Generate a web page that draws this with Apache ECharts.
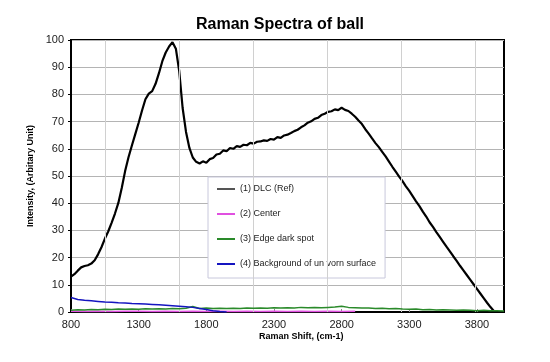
<!DOCTYPE html>
<html><head><meta charset="utf-8">
<script src="https://cdn.jsdelivr.net/npm/echarts@6/dist/echarts.min.js"></script>
<style>html,body{margin:0;padding:0;background:#fff}#c{width:550px;height:362px}</style>
</head><body><div id="c"></div>
<script>
// ---- data ----
const seriesNames = ['(1) DLC (Ref)', '(2) Center', '(3) Edge dark spot', '(4) Background of un vorn surface'];

const dlcShift = [800,825,850,875,900,925,950,975,1000,1025,1050,1075,1100,1125,1150,1175,1200,1225,1250,1275,1300,1325,1350,1375,1400,1425,1450,1475,1500,1525,1550,1575,1600,1625,1650,1675,1700,1725,1750,1775,1800,1825,1850,1875,1900,1925,1950,1975,2000,2025,2050,2075,2100,2125,2150,2175,2200,2225,2250,2275,2300,2325,2350,2375,2400,2425,2450,2475,2500,2525,2550,2575,2600,2625,2650,2675,2700,2725,2750,2775,2800,2825,2850,2875,2900,2925,2950,2975,3000,3025,3050,3075,3100,3125,3150,3175,3200,3225,3250,3275,3300,3325,3350,3375,3400,3425,3450,3475,3500,3525,3550,3575,3600,3625,3650,3675,3700,3725,3750,3775,3800,3825,3850,3875,3900,3925,3950,3975,4000];
const dlcIntensity = [13.0,13.9,15.2,16.4,16.9,17.2,17.8,19.0,21.2,23.8,26.9,29.6,32.8,36.2,40.1,45.6,51.8,56.9,61.2,65.4,69.6,74.1,78.2,80.3,81.2,83.9,87.8,92.2,95.4,97.6,99.2,96.8,88.5,75.0,66.2,60.3,56.8,55.2,54.6,55.4,54.9,56.2,56.6,57.9,58.2,59.4,59.1,60.3,60.0,61.0,60.7,61.5,61.3,62.2,61.9,62.6,62.7,63.1,62.9,63.6,63.4,64.3,64.0,64.9,65.2,65.8,66.5,67.0,67.9,68.6,69.6,70.1,71.0,71.4,72.4,72.9,73.6,73.8,74.5,74.2,75.1,74.3,73.9,72.9,71.8,70.4,69.1,67.2,65.6,63.8,62.1,60.6,58.9,57.2,55.3,53.4,51.6,49.8,48.1,46.2,44.5,42.6,40.7,38.9,36.9,35.1,33.0,31.3,29.4,27.6,25.8,24.0,22.3,20.5,18.8,17.0,15.3,13.6,11.9,10.2,8.5,6.8,5.1,3.4,1.8,0.4,0.0,0.0,0.0];

const centerShift = [800,900,1000,1100,1200,1300,1400,1500,1600,1700,1800,1900,2000,2100,2200,2300,2400,2500,2600,2700,2800,2900];
const centerIntensity = [0.3,0.2,0.3,0.2,0.3,0.3,0.2,0.3,0.2,0.3,0.2,0.3,0.2,0.3,0.2,0.3,0.2,0.3,0.2,0.3,0.2,0.3];

const edgeShift = [800,850,900,950,1000,1050,1100,1150,1200,1250,1300,1350,1400,1450,1500,1550,1600,1650,1700,1750,1800,1850,1900,1950,2000,2050,2100,2150,2200,2250,2300,2350,2400,2450,2500,2550,2600,2650,2700,2750,2800,2850,2900,2950,3000,3050,3100,3150,3200,3250,3300,3350,3400,3450,3500,3550,3600,3650,3700,3750,3800,3850,3900,3950,4000];
const edgeIntensity = [0.6,0.8,0.7,0.9,0.8,1.0,0.9,1.1,1.0,1.1,1.0,1.2,1.1,1.2,1.1,1.3,1.2,1.4,2.0,1.3,1.5,1.3,1.4,1.3,1.4,1.3,1.5,1.4,1.5,1.4,1.6,1.5,1.6,1.5,1.7,1.6,1.7,1.6,1.7,1.8,2.1,1.7,1.6,1.5,1.5,1.3,1.4,1.2,1.3,1.1,1.0,1.1,0.8,0.9,0.7,0.8,0.7,0.6,0.7,0.6,0.5,0.6,0.5,0.5,0.4];

const bgShift = [800,850,900,950,1000,1050,1100,1150,1200,1250,1300,1350,1400,1450,1500,1550,1600,1650,1700,1750,1800,1850,1900,1950];
const bgIntensity = [5.3,4.6,4.3,4.1,3.9,3.7,3.6,3.4,3.3,3.1,3.0,2.9,2.8,2.7,2.5,2.3,2.1,1.9,1.7,1.3,0.9,0.5,0.2,0.0];

const xTicks = {min: 800, max: 4000, interval: 500};
const yTicks = {min: 0, max: 100, interval: 10};

// ---- build ----
const zip = (a, b) => a.map((v, i) => [v, b[i]]);
const colors = ['#000000', '#e050e0', '#2a8a2a', '#1515c0'];
const legendColors = ['#555555', '#e050e0', '#2a8a2a', '#1515c0'];
const FONT = 'Arial, "Liberation Sans", sans-serif';

const chart = echarts.init(document.getElementById('c'), null, {renderer: 'canvas'});
chart.setOption({
  animation: false,
  backgroundColor: '#ffffff',
  title: {
    text: 'Raman Spectra of ball', left: 275, top: 12, textAlign: 'center',
    textStyle: {fontFamily: FONT, fontSize: 16, fontWeight: 'bold', color: '#000'}
  },
  grid: {left: 71, right: 46, top: 40, bottom: 50, show: true, borderColor: '#000', borderWidth: 2, backgroundColor: '#fff'},
  legend: {
    orient: 'vertical', left: 208, top: 177,
    itemWidth: 18, itemHeight: 2, itemGap: 13, icon: 'rect',
    padding: [6, 9, 8, 9],
    backgroundColor: '#fff', borderColor: '#c8c8dc', borderWidth: 1,
    textStyle: {fontFamily: FONT, fontSize: 9, color: '#222', lineHeight: 12},
    data: seriesNames.map((n, i) => ({name: n, itemStyle: {color: legendColors[i]}}))
  },
  xAxis: {
    type: 'value', min: xTicks.min, max: xTicks.max, interval: xTicks.interval,
    axisLine: {show: true, onZero: false, lineStyle: {color: '#000', width: 2}},
    axisTick: {show: true, inside: true, length: 3, lineStyle: {color: '#888'}},
    axisLabel: {fontFamily: FONT, fontSize: 11, color: '#222', margin: 7, showMaxLabel: false,
      formatter: v => String(v)},
    splitLine: {show: false}
  },
  yAxis: {
    type: 'value', min: yTicks.min, max: yTicks.max, interval: yTicks.interval,
    name: 'Intensity, (Arbitary Unit)', nameLocation: 'middle', nameGap: 35,
    nameTextStyle: {fontFamily: FONT, fontSize: 9, fontWeight: 'bold', color: '#000'},
    axisLine: {show: true, lineStyle: {color: '#000', width: 2}},
    axisTick: {show: true, length: 3, lineStyle: {color: '#000'}},
    axisLabel: {fontFamily: FONT, fontSize: 11, color: '#222', margin: 7},
    splitLine: {show: true, lineStyle: {color: '#b4b4b4', width: 1}}
  },
  graphic: [{
    type: 'text', left: 259, top: 332,
    style: {text: 'Raman Shift, (cm-1)', font: 'bold 9px ' + FONT, fill: '#000'}
  }],
  series: [
    {
      type: 'line', name: '__grid', data: [], z: 1, silent: true,
      markLine: {
        silent: true, symbol: 'none', label: {show: false},
        lineStyle: {color: '#d0d0d0', width: 1, type: 'solid'},
        data: [{xAxis: 1051}, {xAxis: 1598}, {xAxis: 2145}, {xAxis: 2692}, {xAxis: 3239}, {xAxis: 3786}]
      }
    },
    {type: 'line', name: seriesNames[0], data: zip(dlcShift, dlcIntensity), showSymbol: false, symbol: 'none', z: 3,
      lineStyle: {color: colors[0], width: 2.2}, itemStyle: {color: legendColors[0]}},
    {type: 'line', name: seriesNames[1], data: zip(centerShift, centerIntensity), showSymbol: false, symbol: 'none', z: 4,
      lineStyle: {color: colors[1], width: 1.5}, itemStyle: {color: colors[1]}},
    {type: 'line', name: seriesNames[2], data: zip(edgeShift, edgeIntensity), showSymbol: false, symbol: 'none', z: 5,
      lineStyle: {color: colors[2], width: 1.5}, itemStyle: {color: colors[2]}},
    {type: 'line', name: seriesNames[3], data: zip(bgShift, bgIntensity), showSymbol: false, symbol: 'none', z: 6,
      lineStyle: {color: colors[3], width: 1.5}, itemStyle: {color: colors[3]}}
  ]
});
</script></body></html>
